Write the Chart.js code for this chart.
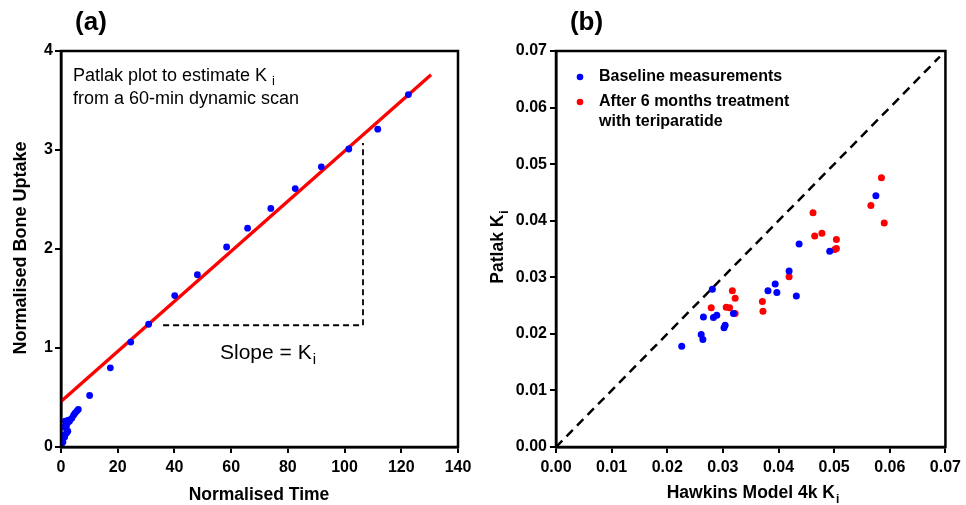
<!DOCTYPE html>
<html><head><meta charset="utf-8">
<script src="https://cdn.jsdelivr.net/npm/chart.js@4/dist/chart.umd.min.js"></script>
<style>
html,body{margin:0;padding:0;background:#fff;overflow:hidden}
#wrap{position:relative;width:966px;height:505px;background:#fff}
canvas{position:absolute;top:0}
</style></head><body>
<div id="wrap">
<canvas id="ca" width="483" height="505" style="left:0"></canvas>
<canvas id="cb" width="483" height="505" style="left:483px"></canvas>
</div>
<script>
// ---------- Panel (a): Patlak plot ----------
const patlakTime   = [0, 0.1, 0.3, 0.5, 0.7, 1.0, 1.3, 1.5, 1.9, 2.4, 1.9, 2.2, 2.6, 3.0, 3.8, 4.4, 4.9, 5.5, 6.1, 10.1, 17.4, 24.6, 30.9, 40.1, 48.1, 58.4, 65.8, 74.0, 82.6, 91.8, 101.5, 111.7, 122.5];
const patlakUptake = [0, 0.02, 0.06, 0.12, 0.05, 0.20, 0.10, 0.26, 0.14, 0.16, 0.21, 0.24, 0.27, 0.26, 0.29, 0.32, 0.34, 0.36, 0.38, 0.52, 0.80, 1.06, 1.24, 1.53, 1.74, 2.02, 2.21, 2.41, 2.61, 2.83, 3.01, 3.21, 3.56];
const fitTime   = [0, 130.5];
const fitUptake = [0.46, 3.76];
const slopeGuideTime   = [36, 106.5, 106.5];
const slopeGuideUptake = [1.23, 1.23, 3.07];
const xTicksA = [0, 20, 40, 60, 80, 100, 120, 140];
const yTicksA = [0, 1, 2, 3, 4];

// ---------- Panel (b): Patlak vs Hawkins ----------
const baselineHawkins = [0.0226, 0.0261, 0.0264, 0.0265, 0.0281, 0.0283, 0.0289, 0.0302, 0.0304, 0.0319, 0.0381, 0.0394, 0.0397, 0.0419, 0.0432, 0.0437, 0.0492, 0.0575];
const baselinePatlak  = [0.0178, 0.0199, 0.0190, 0.0230, 0.0279, 0.0229, 0.0233, 0.0211, 0.0215, 0.0236, 0.0276, 0.0288, 0.0273, 0.0311, 0.0267, 0.0359, 0.0346, 0.0444];
const treatedHawkins  = [0.0279, 0.0306, 0.0312, 0.0317, 0.0322, 0.0322, 0.0371, 0.0372, 0.0419, 0.0462, 0.0465, 0.0478, 0.0501, 0.0504, 0.0504, 0.0566, 0.0585, 0.0590];
const treatedPatlak   = [0.0246, 0.0247, 0.0246, 0.0276, 0.0263, 0.0236, 0.0257, 0.0240, 0.0301, 0.0414, 0.0373, 0.0378, 0.0349, 0.0351, 0.0367, 0.0427, 0.0476, 0.0396];
const identityX = [0, 0.069];
const identityY = [0, 0.069];
const tickValuesB = [0, 0.01, 0.02, 0.03, 0.04, 0.05, 0.06, 0.07];
const tickLabelsB = ['0.00', '0.01', '0.02', '0.03', '0.04', '0.05', '0.06', '0.07'];

const FAM = '"Liberation Sans", Arial, Helvetica, sans-serif';
const toPts = (xs, ys) => xs.map((x, i) => ({x: x, y: ys[i]}));

function subText(ctx, main, sub, x, y, mainFont, subFont, align, subDy, gap) {
  ctx.save();
  ctx.font = mainFont;
  const wm = ctx.measureText(main).width;
  ctx.font = subFont;
  const ws = ctx.measureText(sub).width;
  let sx = x;
  if (align === 'center') sx = x - (wm + gap + ws) / 2;
  ctx.textAlign = 'left';
  ctx.textBaseline = 'alphabetic';
  ctx.fillStyle = '#000';
  ctx.font = mainFont;
  ctx.fillText(main, sx, y);
  ctx.font = subFont;
  ctx.fillText(sub, sx + wm + gap, y + subDy);
  ctx.restore();
}

function axisCfg(min, max, ticksArr, labels, isX, fitSize, pad) {
  return {
    type: 'linear', min: min, max: max,
    afterBuildTicks: s => { s.ticks = ticksArr.map(v => ({value: v})); },
    afterFit: s => { if (isX) s.height = fitSize; else s.width = fitSize; },
    border: {display: true, color: '#000', width: 2.5},
    grid: {drawOnChartArea: false, drawTicks: true, color: '#000', lineWidth: 2, tickLength: 6},
    ticks: {
      color: '#000', padding: pad, autoSkip: false, maxRotation: 0,
      font: {family: FAM, size: 16, weight: 'bold'},
      callback: labels ? ((v, i) => labels[i]) : (v => String(v))
    }
  };
}

const framePlugin = {
  id: 'frame',
  afterDatasetsDraw(chart) {
    const a = chart.chartArea, ctx = chart.ctx;
    ctx.save();
    ctx.strokeStyle = '#000';
    ctx.lineWidth = 2.5;
    ctx.strokeRect(a.left, a.top, a.right - a.left, a.bottom - a.top);
    ctx.restore();
  }
};

// ---------- Chart A ----------
const decorA = {
  id: 'decorA',
  afterDraw(chart) {
    const ctx = chart.ctx;
    ctx.save();
    ctx.fillStyle = '#000';
    ctx.font = 'bold 26px ' + FAM;
    ctx.textAlign = 'center';
    ctx.textBaseline = 'alphabetic';
    ctx.fillText('(a)', 91, 30);
    subText(ctx, 'Patlak plot to estimate K', 'i', 73, 81, '18px ' + FAM, '13px ' + FAM, 'left', 4, 5);
    ctx.font = '18px ' + FAM;
    ctx.textAlign = 'left';
    ctx.fillText('from a 60-min dynamic scan', 73, 104);
    subText(ctx, 'Slope = K', 'i', 220, 359, '21px ' + FAM, '15px ' + FAM, 'left', 5, 1);
    ctx.font = 'bold 17.5px ' + FAM;
    ctx.textAlign = 'center';
    ctx.fillText('Normalised Time', 259, 500);
    ctx.save();
    ctx.translate(25.5, 248);
    ctx.rotate(-Math.PI / 2);
    ctx.font = 'bold 18px ' + FAM;
    ctx.fillText('Normalised Bone Uptake', 0, 0);
    ctx.restore();
    ctx.restore();
  }
};

new Chart(document.getElementById('ca'), {
  type: 'scatter',
  data: {
    datasets: [
      {data: toPts(patlakTime, patlakUptake), backgroundColor: '#0000ff', borderColor: '#0000ff', pointRadius: 3.4, borderWidth: 0},
      {data: toPts(fitTime, fitUptake), showLine: true, borderColor: '#ff0000', borderWidth: 3.3, pointRadius: 0, fill: false},
      {data: toPts(slopeGuideTime, slopeGuideUptake), showLine: true, borderColor: '#000', borderWidth: 1.8, borderDash: [6, 4], pointRadius: 0, fill: false}
    ]
  },
  options: {
    responsive: false, animation: false,
    layout: {padding: {left: 0, right: 25, top: 51, bottom: 0}},
    plugins: {legend: {display: false}, tooltip: {enabled: false}},
    scales: {
      x: axisCfg(0, 140, xTicksA, null, true, 58, 5),
      y: axisCfg(0, 4, yTicksA, null, false, 61, 2)
    }
  },
  plugins: [framePlugin, decorA]
});

// ---------- Chart B ----------
const decorB = {
  id: 'decorB',
  afterDraw(chart) {
    const ctx = chart.ctx;
    ctx.save();
    ctx.fillStyle = '#000';
    ctx.font = 'bold 26px ' + FAM;
    ctx.textAlign = 'center';
    ctx.textBaseline = 'alphabetic';
    ctx.fillText('(b)', 103.5, 30);
    const items = [
      {c: '#0000ff', lines: ['Baseline measurements'], y: 77},
      {c: '#ff0000', lines: ['After 6 months treatment', 'with teriparatide'], y: 102}
    ];
    items.forEach(it => {
      ctx.beginPath();
      ctx.fillStyle = it.c;
      ctx.arc(97, it.y, 3.3, 0, Math.PI * 2);
      ctx.fill();
      ctx.fillStyle = '#000';
      ctx.font = 'bold 16px ' + FAM;
      ctx.textAlign = 'left';
      ctx.textBaseline = 'middle';
      it.lines.forEach((l, k) => ctx.fillText(l, 116, it.y + k * 20));
    });
    ctx.textBaseline = 'alphabetic';
    subText(ctx, 'Hawkins Model 4k K', 'i', 270, 498, 'bold 17.5px ' + FAM, 'bold 12px ' + FAM, 'center', 5, 1);
    ctx.save();
    ctx.translate(19.5, 247);
    ctx.rotate(-Math.PI / 2);
    subText(ctx, 'Patlak K', 'i', 0, 0, 'bold 17.5px ' + FAM, 'bold 12px ' + FAM, 'center', 5, 1);
    ctx.restore();
    ctx.restore();
  }
};

new Chart(document.getElementById('cb'), {
  type: 'scatter',
  data: {
    datasets: [
      {data: toPts(baselineHawkins, baselinePatlak), backgroundColor: '#0000ff', borderColor: '#0000ff', pointRadius: 3.5, borderWidth: 0},
      {data: toPts(treatedHawkins, treatedPatlak), backgroundColor: '#ff0000', borderColor: '#ff0000', pointRadius: 3.5, borderWidth: 0},
      {data: toPts(identityX, identityY), showLine: true, borderColor: '#000', borderWidth: 2.5, borderDash: [9, 6], pointRadius: 0, fill: false}
    ]
  },
  options: {
    responsive: false, animation: false,
    layout: {padding: {left: 0, right: 15, top: 51, bottom: 0}},
    plugins: {legend: {display: false}, tooltip: {enabled: false}},
    scales: {
      x: axisCfg(0, 0.07, tickValuesB, tickLabelsB, true, 58, 5),
      y: axisCfg(0, 0.07, tickValuesB, tickLabelsB, false, 73, 3)
    }
  },
  plugins: [framePlugin, decorB]
});
</script>
</body></html>
